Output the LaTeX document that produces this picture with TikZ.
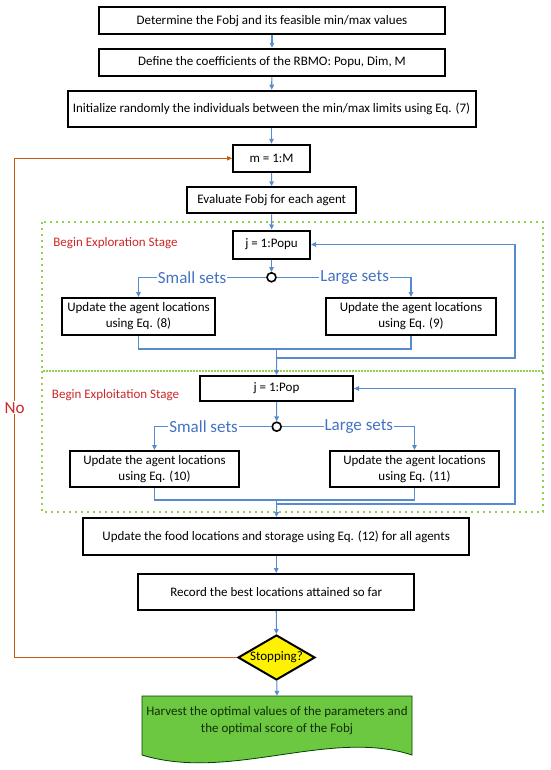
\documentclass[tikz,border=0pt]{standalone}
\usepackage{fontspec}
\setmainfont{Carlito}
\usetikzlibrary{shapes.geometric,arrows.meta}
\definecolor{linkblue}{RGB}{86,140,205}
\definecolor{setblue}{RGB}{68,114,196}
\definecolor{loopred}{RGB}{197,90,17}
\definecolor{stagered}{RGB}{204,40,40}
\definecolor{stagegreen}{RGB}{146,208,80}
\definecolor{harvestgreen}{RGB}{107,200,64}
\definecolor{harvesttext}{RGB}{20,45,10}
\begin{document}
\begin{tikzpicture}[x=1pt,y=-1pt,
	>={Triangle[length=5pt,width=4.5pt]},
	procbox/.style={draw, line width=2pt, fill=white, align=center, inner sep=1pt, font=\fontsize{13}{16}\selectfont},
	link/.style={draw=linkblue, line width=1.1pt, ->},
	setlabel/.style={fill=white, text=setblue, inner sep=1pt, font=\fontsize{17}{20}\selectfont},
	stagelabel/.style={text=stagered, font=\fontsize{13}{15}\selectfont},
	stagebox/.style={draw=stagegreen, line width=1.6pt, dash pattern=on 1.6pt off 4.4pt},
	joint/.style={circle, draw, line width=1.6pt, fill=white, inner sep=0pt, minimum size=9pt}]
			\useasboundingbox (0,0) rectangle (550,770);
			% stages
			\draw[stagebox] (42,222) rectangle (543,371);
			\draw[stagebox] (42,371) rectangle (543,512);
			\node[stagelabel] (explore) at (115.5,243) {Begin Exploration Stage};
			\node[stagelabel] (exploit) at (115.5,395) {Begin Exploitation Stage};
			% set up
			\node[procbox, minimum width=346, minimum height=27] (fobj) at (272,20.7) {Determine the Fobj and its feasible min/max values};
			\node[procbox, minimum width=346, minimum height=27] (coef) at (272,62.3) {Define the coefficients of the RBMO: Popu, Dim, M};
			\node[procbox, minimum width=408, minimum height=36] (init) at (271.5,108.7) {Initialize randomly the individuals between the min/max limits using Eq. (7)};
			\node[procbox, minimum width=77, minimum height=27] (mloop) at (271.5,158.3) {m = 1:M};
			\node[procbox, minimum width=169, minimum height=26] (eval) at (271.7,200.3) {Evaluate Fobj for each agent};
			\draw[link] (fobj) -- (coef);
			\draw[link] (coef) -- (init);
			\draw[link] (init) -- (mloop);
			\draw[link] (mloop) -- (eval);
			% exploration
			\node[procbox, minimum width=77, minimum height=28] (jpopu) at (271.5,244.5) {j = 1:Popu};
			\node[joint] (splitA) at (271.5,277.3) {};
			\node[procbox, minimum width=153, minimum height=37] (eqeight) at (138.5,316.5) {Update the agent locations\\using Eq. (8)};
			\node[procbox, minimum width=170, minimum height=37] (eqnine) at (411,316.5) {Update the agent locations\\using Eq. (9)};
			\draw[link] (eval) -- (jpopu);
			\draw[link] (jpopu) -- (splitA);
			\draw[link] (splitA.west) -| node[setlabel, pos=0.29] {Small sets} (eqeight.north);
			\draw[link] (splitA.east) -| node[setlabel, pos=0.29] {Large sets} (eqnine.north);
			\draw[link,-] (eqeight.south) -- ++(0,13) -| (eqnine.south);
			\coordinate (joinA) at (276.7,348);
			\coordinate (loopA) at (276.7,358);
			\draw[link,-] (joinA) -- (loopA);
			\draw[link] (loopA) -- ++(238.3,0) |- (jpopu.east);
			% exploitation
			\node[procbox, minimum width=153, minimum height=25] (jpop) at (276.5,388.5) {j = 1:Pop};
			\node[joint] (splitB) at (276.7,426.7) {};
			\node[procbox, minimum width=169, minimum height=36] (eqten) at (154.5,469) {Update the agent locations\\using Eq. (10)};
			\node[procbox, minimum width=169, minimum height=36] (eqeleven) at (414.5,469) {Update the agent locations\\using Eq. (11)};
			\draw[link] (loopA) -- (jpop);
			\draw[link] (jpop) -- (splitB);
			\draw[link] (splitB.west) -| node[setlabel, pos=0.29] {Small sets} (eqten.north);
			\draw[link] (splitB.east) -| node[setlabel, pos=0.29] {Large sets} (eqeleven.north);
			\draw[link,-] (eqten.south) -- ++(0,12) -| (eqeleven.south);
			\coordinate (joinB) at (276.7,499);
			\coordinate (loopB) at (276.7,504);
			\draw[link,-] (joinB) -- (loopB);
			\draw[link] (loopB) -- ++(238.3,0) |- (jpop.east);
			% update and stop
			\node[procbox, minimum width=386, minimum height=37] (food) at (276.2,536.5) {Update the food locations and storage using Eq. (12) for all agents};
			\node[procbox, minimum width=276, minimum height=36] (record) at (276.2,592) {Record the best locations attained so far};
			\node[diamond, draw, line width=2pt, fill=yellow, aspect=1.7, inner sep=0pt, minimum width=77, minimum height=45, font=\fontsize{13}{15}\selectfont] (stop) at (276.5,657.5) {Stopping?};
			\draw[link] (loopB) -- (food);
			\draw[link] (food) -- (record);
			\draw[link] (record) -- (stop);
			% harvest
			\draw[draw=black!75!green, line width=0.8pt, fill=harvestgreen] (142,696) -- (412,696) -- (412,755)
				.. controls (330,728) and (230,782) .. (142,755) -- cycle;
			\node[text=harvesttext, align=center, minimum width=270, minimum height=50, font=\fontsize{13}{17}\selectfont] (harvest) at (277,721) {Harvest the optimal values of the parameters and\\the optimal score of the Fobj};
			\draw[link] (stop) -- (harvest.north);
			% no loop
			\draw[draw=loopred, line width=1pt, ->] (stop.west) -- ++(-222.5,0) |- node[pos=0.25, fill=white, text=stagered, inner sep=1pt, font=\fontsize{17}{20}\selectfont] (nolabel) {No} (mloop.west);
\end{tikzpicture}
\end{document}
